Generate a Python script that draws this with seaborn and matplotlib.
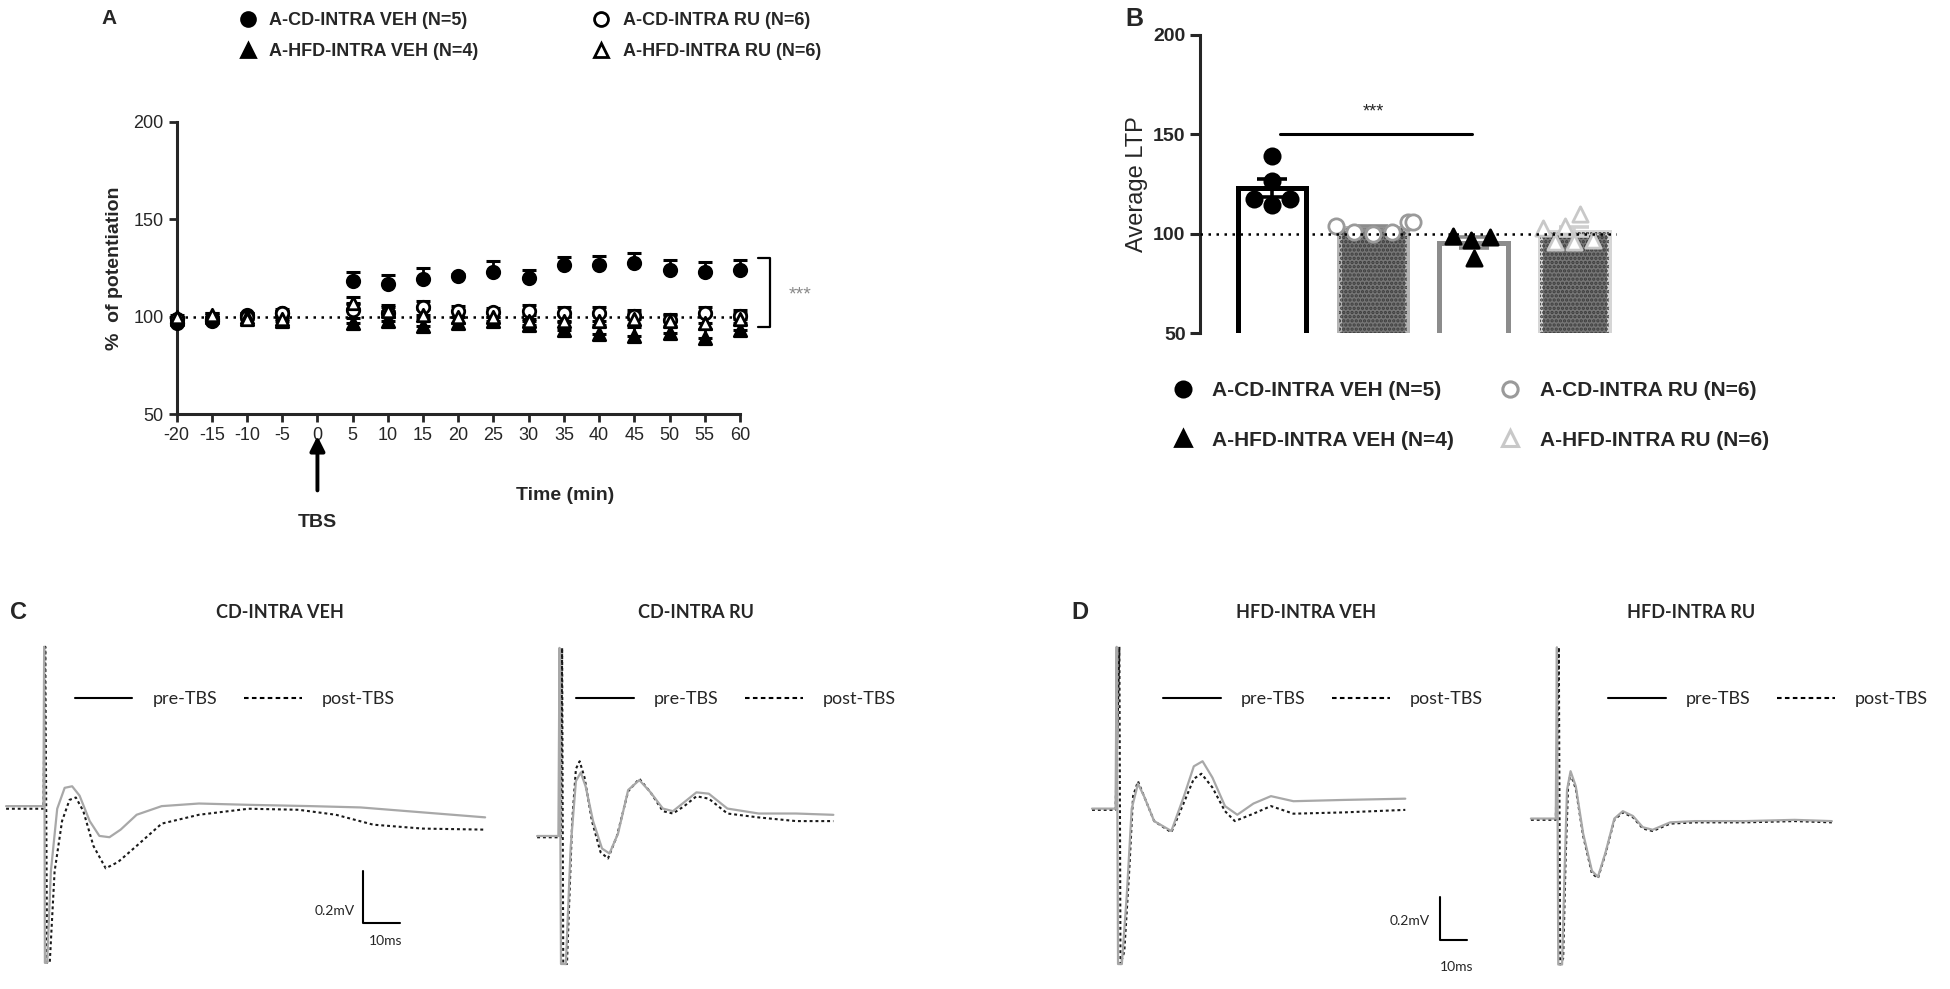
import numpy as np
import pandas as pd
import matplotlib
matplotlib.use("Agg")
import matplotlib.pyplot as plt
import seaborn as sns
from matplotlib.lines import Line2D
from matplotlib.patches import Rectangle

# ---------------- panel A: time course (mean, SEM) ----------------
time_min = [-20, -15, -10, -5, 5, 10, 15, 20, 25, 30, 35, 40, 45, 50, 55, 60]
cd_veh_mean = [97, 98, 101, 102, 118.6, 116.6, 119.5, 121, 123, 120, 126.8, 126.8, 127.6, 124, 123, 124]
cd_veh_sem = [1, 1, 1, 1, 4.5, 5, 5.4, 1, 5.6, 4.2, 3.9, 4.6, 5, 5, 5, 5]
cd_ru_mean = [99, 99, 100, 102, 103.7, 102, 105, 103, 102.5, 103, 102, 102, 100.5, 98.5, 102, 100.5]
cd_ru_sem = [1, 1, 2, 2, 3, 3, 3, 2.5, 2, 3, 3, 3, 3, 3, 3, 3]
hfd_veh_mean = [99, 100, 100, 98, 96.6, 97.8, 95.4, 97, 97.8, 95.8, 93.2, 91, 90, 91.5, 89, 93]
hfd_veh_sem = [1, 2, 1, 2, 3, 3, 4, 3, 2, 3, 4, 5, 5, 4, 5, 4]
hfd_ru_mean = [100, 101, 99, 99, 107, 103, 101, 100, 100, 98, 98, 98, 99, 98, 97, 99]
hfd_ru_sem = [1, 1, 2, 2, 3, 3, 3, 3, 2, 3, 3, 3, 3, 3, 4, 3]

labels = ["A-CD-INTRA VEH (N=5)", "A-CD-INTRA RU (N=6)",
          "A-HFD-INTRA VEH (N=4)", "A-HFD-INTRA RU (N=6)"]

# ---------------- panel B: average LTP per slice ----------------
groups_b = ["CD VEH", "CD RU", "HFD VEH", "HFD RU"]
ltp_cd_veh = [139, 126.5, 117.5, 117.5, 114.5]
ltp_cd_ru = [106, 106, 104, 101, 100, 101]
ltp_hfd_veh = [99, 98.5, 97, 88]
ltp_hfd_ru = [110, 104, 103, 96, 96, 97]

# ---------------- panels C/D: fEPSP traces (ms from stimulus, mV) ----------------
c_veh_t_pre = [-10.7, -0.7, -0.5, -0.3, 0.3, 1.3, 3.0, 5.0, 7.0, 9.0, 11.7, 14.3, 17.0, 20.0, 24.3, 31.0, 41.0, 54.3, 71.0, 84.3, 101.0, 117.7]
c_veh_v_pre = [0, 0, 0.61, -0.60, -0.60, -0.25, -0.01, 0.07, 0.076, 0.04, -0.057, -0.114, -0.119, -0.09, -0.033, 0, 0.01, 0.005, 0, -0.005, -0.024, -0.043]
c_veh_t_post = [-10.7, -0.7, -0.2, 0.3, 1.0, 2.3, 4.3, 6.3, 8.0, 10.0, 12.7, 16.0, 19.3, 24.3, 31.0, 41.0, 54.3, 67.7, 77.7, 87.7, 101.0, 117.7]
c_veh_v_post = [-0.01, -0.01, 0.61, -0.60, -0.60, -0.25, -0.057, 0.024, 0.033, -0.019, -0.152, -0.238, -0.214, -0.152, -0.067, -0.033, -0.01, -0.014, -0.033, -0.071, -0.086, -0.09]

c_ru_t_pre = [-6.7, -1.0, -0.7, -0.3, 1.0, 2.3, 3.7, 5.0, 6.3, 8.3, 10.7, 12.7, 15.0, 17.7, 20.7, 23.7, 27.0, 29.7, 32.7, 36.0, 39.3, 44.3, 52.7, 62.7, 72.7]
c_ru_v_pre = [0, 0, 0.72, -0.49, -0.49, -0.04, 0.21, 0.243, 0.19, 0.057, -0.048, -0.067, 0.01, 0.176, 0.214, 0.167, 0.105, 0.095, 0.129, 0.167, 0.162, 0.105, 0.086, 0.086, 0.081]
c_ru_t_post = [-6.7, -0.3, 0.0, 0.3, 1.3, 2.7, 3.7, 4.7, 6.0, 8.0, 10.3, 12.3, 14.7, 17.7, 20.7, 23.7, 27.0, 29.7, 32.7, 36.0, 39.3, 44.3, 52.7, 62.7, 72.7]
c_ru_v_post = [-0.005, -0.005, 0.72, -0.49, -0.49, 0.057, 0.257, 0.286, 0.224, 0.057, -0.062, -0.086, 0, 0.171, 0.219, 0.167, 0.095, 0.086, 0.114, 0.152, 0.143, 0.086, 0.071, 0.057, 0.057]

d_veh_t_pre = [-9.5, -0.9, -0.5, 0.0, 1.4, 3.2, 5.0, 7.3, 9.5, 13.2, 19.5, 24.1, 27.7, 30.9, 34.5, 39.1, 43.6, 49.5, 55.9, 64.1, 82.3, 105.0]
d_veh_v_pre = [0, 0, 0.765, -0.735, -0.735, -0.41, 0, 0.118, 0.059, -0.059, -0.106, 0.059, 0.2, 0.224, 0.147, 0.012, -0.029, 0.024, 0.059, 0.035, 0.041, 0.047]
d_veh_t_post = [-9.5, -0.9, 0.5, 0.9, 2.3, 4.1, 5.5, 7.3, 9.5, 13.2, 19.5, 24.1, 27.7, 30.5, 34.5, 39.1, 42.7, 49.5, 55.9, 64.1, 82.3, 105.0]
d_veh_v_post = [-0.006, -0.006, 0.765, -0.735, -0.676, -0.294, 0.059, 0.129, 0.059, -0.059, -0.112, 0.029, 0.141, 0.165, 0.1, -0.012, -0.059, -0.024, 0.012, -0.024, -0.018, -0.006]

d_ru_t_pre = [-10, -0.9, -0.5, 0, 1.4, 2.3, 3.2, 4.5, 6.4, 9.1, 12.3, 14.5, 17.3, 20.5, 23.6, 27.3, 30.9, 34.5, 40.9, 50.0, 68.2, 86.4, 100.0]
d_ru_v_pre = [0, 0, 0.81, -0.69, -0.69, -0.25, 0.135, 0.224, 0.153, -0.071, -0.247, -0.276, -0.159, 0, 0.035, 0.012, -0.041, -0.053, -0.018, -0.012, -0.012, -0.006, -0.012]
d_ru_t_post = [-10, -0.9, 0.2, 0.7, 1.8, 2.7, 3.6, 4.5, 6.4, 9.1, 12.3, 14.5, 17.3, 20.5, 23.6, 27.3, 30.9, 34.5, 40.9, 50.0, 68.2, 86.4, 100.0]
d_ru_v_post = [-0.006, -0.006, 0.81, -0.69, -0.66, -0.19, 0.153, 0.212, 0.141, -0.082, -0.259, -0.282, -0.165, -0.006, 0.029, 0.006, -0.047, -0.059, -0.024, -0.018, -0.018, -0.012, -0.018]

scale_ms = 10
scale_mv = 0.2

# ---------------- layout helpers (reference grid) ----------------
W, H = 1568, 795


def rect(x0, y0, x1, y1):
    return [x0 / W, 1 - y1 / H, (x1 - x0) / W, (y1 - y0) / H]


def fx(x):
    return x / W


def fy(y):
    return 1 - y / H


sns.set_theme(style="ticks")
plt.rcParams["font.family"] = ["Liberation Sans", "DejaVu Sans"]
plt.rcParams["axes.linewidth"] = 2.2
plt.rcParams["hatch.linewidth"] = 1.6
plt.rcParams["axes.unicode_minus"] = False

fig = plt.figure(figsize=(19.5, 9.89), dpi=100)
fig.patch.set_facecolor("white")

narrow = ["Liberation Sans Narrow", "Liberation Sans"]
calib = ["Lato", "DejaVu Sans"]

# ================= panel A =================
axA = fig.add_axes(rect(142, 98, 595, 333))
axA.set_xlim(-20, 60)
axA.set_ylim(50, 200)
axA.axhline(100, color="black", ls=(0, (1, 2.2)), lw=1.8, zorder=1)

series_a = [
    (cd_veh_mean, cd_veh_sem, "o", "black"),
    (cd_ru_mean, cd_ru_sem, "o", "white"),
    (hfd_veh_mean, hfd_veh_sem, "^", "black"),
    (hfd_ru_mean, hfd_ru_sem, "^", "white"),
]
zeros = np.zeros(len(time_min))
for mean, sem, mk, face in series_a:
    axA.errorbar(time_min, mean, yerr=[zeros, sem], fmt="none", ecolor="black",
                 elinewidth=2, capsize=5, capthick=2.2, clip_on=False, zorder=2)
for mean, sem, mk, face in series_a:
    sns.scatterplot(x=time_min, y=mean, ax=axA, marker=mk, s=80, color="black",
                    facecolor=face, edgecolor="black", linewidth=2, clip_on=False,
                    zorder=3, legend=False)

axA.set_xticks(range(-20, 61, 5))
axA.set_yticks([50, 100, 150, 200])
axA.tick_params(width=2, length=6, labelsize=13, direction="out")
for lbl in axA.get_xticklabels() + axA.get_yticklabels():
    lbl.set_family(narrow)
sns.despine(ax=axA)
axA.set_xlabel("Time (min)", fontweight="bold", fontsize=14)
axA.xaxis.set_label_coords(0.69, -0.25)
axA.set_ylabel("%  of potentiation", fontweight="bold", fontsize=14)
axA.yaxis.set_label_coords(-0.095, 0.5)

# TBS arrow
tr = axA.get_xaxis_transform()
axA.annotate("", xy=(0, -0.065), xycoords=tr, xytext=(0, -0.27), textcoords=tr,
             arrowprops=dict(arrowstyle="-|>", color="black", lw=2.8, mutation_scale=22))
axA.text(0, -0.37, "TBS", transform=tr, ha="center", va="center",
         fontweight="bold", fontsize=14)

# significance bracket
br_x0, br_x1, br_lo, br_hi = 62.6, 64.2, 95, 130
axA.plot([br_x0, br_x1, br_x1, br_x0], [br_hi, br_hi, br_lo, br_lo],
         color="black", lw=1.6, clip_on=False)
axA.text(68.5, 111, "***", color="#8a8a8a", fontsize=14, ha="center", va="center")

handles_a = [
    Line2D([], [], marker="o", ls="none", ms=10, color="black", mfc="black", mew=2),
    Line2D([], [], marker="^", ls="none", ms=10, color="black", mfc="black", mew=2),
    Line2D([], [], marker="o", ls="none", ms=10, color="black", mfc="white", mew=2),
    Line2D([], [], marker="^", ls="none", ms=10, color="black", mfc="white", mew=2),
]
labels_a = [labels[0], labels[2], labels[1], labels[3]]
fig.legend(handles=handles_a, labels=labels_a, ncol=2, loc="center left",
           bbox_to_anchor=(fx(192), fy(29)), frameon=False,
           prop=dict(weight="bold", size=13), handlelength=1.0, handletextpad=0.7,
           columnspacing=6.3, labelspacing=0.75, borderpad=0, borderaxespad=0)
fig.text(fx(88), fy(15), "A", fontsize=15, fontweight="bold", ha="center", va="center")

# ================= panel B =================
axB = fig.add_axes(rect(965, 28, 1300, 268))
dfB = pd.DataFrame({
    "group": [groups_b[0]] * len(ltp_cd_veh) + [groups_b[1]] * len(ltp_cd_ru)
    + [groups_b[2]] * len(ltp_hfd_veh) + [groups_b[3]] * len(ltp_hfd_ru),
    "ltp": ltp_cd_veh + ltp_cd_ru + ltp_hfd_veh + ltp_hfd_ru,
})
bar_faces = ["white", "#767676", "white", "#767676"]
bar_edges = ["black", "#b4b4b4", "#8c8c8c", "#d6d6d6"]
err_cols = ["black", "#8c8c8c", "#8c8c8c", "#cfcfcf"]
pt_marker = ["o", "o", "^", "^"]
pt_edge = ["black", "#9a9a9a", "black", "#c8c8c8"]
pt_face = ["black", "white", "black", "white"]

sns.barplot(data=dfB, x="group", y="ltp", order=groups_b, hue="group", hue_order=groups_b,
            palette=bar_faces, errorbar=None, width=0.68, legend=False, ax=axB,
            linewidth=3.6, saturation=1)
for p, ec, fc in zip(axB.patches, bar_edges, bar_faces):
    p.set_edgecolor(ec)
    p.set_linewidth(3.6)
    p.set_zorder(2)
    if fc != "white":
        axB.add_patch(Rectangle(p.get_xy(), p.get_width(), p.get_height(), fill=False,
                                hatch="....", edgecolor="#3c3c3c", linewidth=0, zorder=2.1))

stats = dfB.groupby("group")["ltp"].agg(["mean", "sem"]).reindex(groups_b)
for i, g in enumerate(groups_b):
    axB.errorbar(i, stats.loc[g, "mean"], yerr=stats.loc[g, "sem"], fmt="none",
                 ecolor=err_cols[i], elinewidth=2.6, capsize=11, capthick=2.6, zorder=3)
for i, g in enumerate(groups_b):
    sns.swarmplot(data=dfB[dfB["group"] == g], x="group", y="ltp", order=groups_b,
                  marker=pt_marker[i], color=pt_edge[i], facecolor=pt_face[i],
                  edgecolor=pt_edge[i], linewidth=2, size=11, ax=axB, zorder=4)

axB.axhline(100, color="black", ls=(0, (1, 2.2)), lw=1.8, zorder=5)
axB.set_xlim(-0.716, 3.42)
axB.set_ylim(50, 200)
axB.set_yticks([50, 100, 150, 200])
axB.tick_params(axis="y", width=2.2, length=7, labelsize=14)
axB.tick_params(axis="x", bottom=False, labelbottom=False)
for lbl in axB.get_yticklabels():
    lbl.set_fontweight("bold")
sns.despine(ax=axB, bottom=True)
axB.set_xlabel("")
axB.set_ylabel("Average LTP", fontsize=17)
axB.yaxis.set_label_coords(-0.125, 0.5)
axB.plot([0.08, 1.98], [150, 150], color="black", lw=2.2)
axB.text(1.0, 157, "***", ha="center", va="bottom", fontsize=13)
fig.text(fx(912), fy(15), "B", fontsize=18, fontweight="bold", ha="center", va="center")

handles_b = [
    Line2D([], [], marker="o", ls="none", ms=11, color="black", mfc="black", mew=2),
    Line2D([], [], marker="^", ls="none", ms=11, color="black", mfc="black", mew=2),
    Line2D([], [], marker="o", ls="none", ms=11, color="#9a9a9a", mfc="white", mew=2.2),
    Line2D([], [], marker="^", ls="none", ms=11, color="#c8c8c8", mfc="white", mew=2.2),
]
fig.legend(handles=handles_b, labels=labels_a, ncol=2, loc="center left",
           bbox_to_anchor=(fx(943), fy(334)), frameon=False,
           prop=dict(weight="bold", size=15), handlelength=1.0, handletextpad=0.9,
           columnspacing=2.2, labelspacing=1.45, borderpad=0, borderaxespad=0)

# ================= panels C / D: traces =================
traces = [
    # box (x0, y0, x1, y1), origin (x, y), px per ms, px per mV, data
    ((0, 505, 420, 790), (37, 648), 3.0, 210, c_veh_t_pre, c_veh_v_pre, c_veh_t_post, c_veh_v_post),
    ((420, 505, 760, 790), (452, 672), 3.0, 210, c_ru_t_pre, c_ru_v_pre, c_ru_t_post, c_ru_v_post),
    ((860, 505, 1200, 795), (899, 650), 2.2, 170, d_veh_t_pre, d_veh_v_pre, d_veh_t_post, d_veh_v_post),
    ((1200, 505, 1568, 795), (1253, 658), 2.2, 170, d_ru_t_pre, d_ru_v_pre, d_ru_t_post, d_ru_v_post),
]
trace_axes = []
for box, org, sx, sy, tpre, vpre, tpost, vpost in traces:
    ax = fig.add_axes(rect(*box))
    sns.lineplot(x=tpost, y=vpost, ax=ax, sort=False, estimator=None, color="#1a1a1a",
                 lw=1.5, ls=(0, (1.4, 1.4)))
    sns.lineplot(x=tpre, y=vpre, ax=ax, sort=False, estimator=None, color="#a8a8a8", lw=1.6)
    ax.set_xlim((box[0] - org[0]) / sx, (box[2] - org[0]) / sx)
    ax.set_ylim(-(box[3] - org[1]) / sy, -(box[1] - org[1]) / sy)
    ax.axis("off")
    trace_axes.append(ax)

# scale bars
axc, axd = trace_axes[0], trace_axes[2]
sb_c = (85, -0.448)
axc.plot([sb_c[0], sb_c[0], sb_c[0] + scale_ms], [sb_c[1] + scale_mv, sb_c[1], sb_c[1]],
         color="black", lw=1.5)
axc.text(sb_c[0] - 2.3, sb_c[1] + 0.045, "0.2mV", ha="right", va="center", fontsize=10, family=calib)
axc.text(sb_c[0] + 6, sb_c[1] - 0.07, "10ms", ha="center", va="center", fontsize=10, family=calib)
sb_d = (117.7, -0.62)
axd.plot([sb_d[0], sb_d[0], sb_d[0] + scale_ms], [sb_d[1] + scale_mv, sb_d[1], sb_d[1]],
         color="black", lw=1.5)
axd.text(sb_d[0] - 3.6, sb_d[1] + 0.09, "0.2mV", ha="right", va="center", fontsize=10, family=calib)
axd.text(sb_d[0] + 6, sb_d[1] - 0.13, "10ms", ha="center", va="center", fontsize=10, family=calib)

# titles, panel letters and small legends
fig.text(fx(8), fy(492), "C", fontsize=17, fontweight="bold", ha="left", va="center")
fig.text(fx(868), fy(492), "D", fontsize=17, fontweight="bold", ha="center", va="center")
for txt, xc in [("CD-INTRA VEH", 225), ("CD-INTRA RU", 560),
                ("HFD-INTRA VEH", 1050), ("HFD-INTRA RU", 1360)]:
    fig.text(fx(xc), fy(492), txt, fontsize=13, fontweight="bold", family=calib,
             ha="center", va="center")

leg_handles = [Line2D([], [], color="black", lw=1.5),
               Line2D([], [], color="black", lw=1.5, ls=(0, (2.2, 1.6)))]
for ax, x_start in zip(trace_axes, [60, 463, 935, 1293]):
    ax.legend(handles=leg_handles, labels=["pre-TBS", "post-TBS"], ncol=2,
              loc="center left", bbox_to_anchor=(fx(x_start), fy(562)),
              bbox_transform=fig.transFigure, frameon=False,
              prop=dict(family=calib, size=13), handlelength=3.2, handletextpad=1.1,
              columnspacing=1.5, borderpad=0, borderaxespad=0)

fig.savefig("out.png", dpi=100, facecolor="white")
